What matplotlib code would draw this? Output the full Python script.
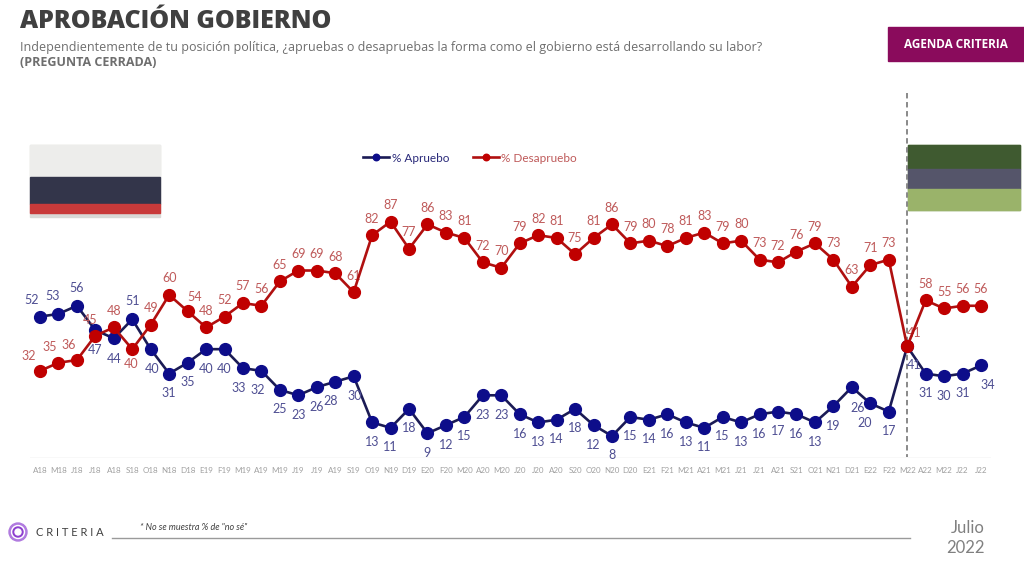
import matplotlib.pyplot as plt
from matplotlib.patches import Rectangle, Circle

# ---- data ----
meses = ["A18", "M18", "J18", "J18", "A18", "S18", "O18", "N18", "D18",
         "E19", "F19", "M19", "A19", "M19", "J19", "J19", "A19", "S19", "O19", "N19", "D19",
         "E20", "F20", "M20", "A20", "M20", "J20", "J20", "A20", "S20", "O20", "N20", "D20",
         "E21", "F21", "M21", "A21", "M21", "J21", "J21", "A21", "S21", "O21", "N21", "D21",
         "E22", "F22", "M22", "A22", "M22", "J22", "J22"]

apruebo = [52, 53, 56, 47, 44, 51, 40, 31, 35,
           40, 40, 33, 32, 25, 23, 26, 28, 30, 13, 11, 18,
           9, 12, 15, 23, 23, 16, 13, 14, 18, 12, 8, 15,
           14, 16, 13, 11, 15, 13, 16, 17, 16, 13, 19, 26,
           20, 17, 41, 31, 30, 31, 34]

desapruebo = [32, 35, 36, 45, 48, 40, 49, 60, 54,
              48, 52, 57, 56, 65, 69, 69, 68, 61, 82, 87, 77,
              86, 83, 81, 72, 70, 79, 82, 81, 75, 81, 86, 79,
              80, 78, 81, 83, 79, 80, 73, 72, 76, 79, 73, 63,
              71, 73, 41, 58, 55, 56, 56]

idx_cambio = 47  # M22, cambio de gobierno

AZUL = "#0d0d8a"
AZUL_LINEA = "#1b1b55"
AZUL_TXT = "#4e4e92"
ROJO = "#c00000"
ROJO_LINEA = "#b01010"
ROJO_TXT = "#bf5a5a"
GRIS = "#404040"

plt.rcParams['font.family'] = ['Lato', 'DejaVu Sans']

W, H = 1024, 573
fig = plt.figure(figsize=(W / 100, H / 100), dpi=100)
fig.patch.set_facecolor("white")

# overlay axes in pixel coords for decorations
deco = fig.add_axes([0, 0, 1, 1])
deco.set_xlim(0, W)
deco.set_ylim(H, 0)
deco.axis("off")

deco.text(20, 22, "APROBACIÓN GOBIERNO", fontsize=18, fontweight="black",
          color=GRIS, va="center", ha="left", family=["Open Sans", "DejaVu Sans"])
deco.text(20, 47, "Independientemente de tu posición política, ¿apruebas o desapruebas la forma como el gobierno está desarrollando su labor?",
          fontsize=9, color="#6e6e6e", va="center", ha="left", family=["Open Sans", "DejaVu Sans"])
deco.text(20, 62, "(PREGUNTA CERRADA)", fontsize=9, fontweight="bold",
          color="#6e6e6e", va="center", ha="left", family=["Open Sans", "DejaVu Sans"])

deco.add_patch(Rectangle((888, 27), 136, 34, color="#8a0b5c", zorder=2))
deco.text(956, 44, "AGENDA CRITERIA", fontsize=8.5, fontweight="bold", color="white",
          ha="center", va="center", zorder=3, family=["Open Sans", "DejaVu Sans"])

# photo placeholders
deco.add_patch(Rectangle((30, 145), 130, 72, color="#d9d9d6", zorder=1))
deco.add_patch(Rectangle((30, 145), 130, 32, color="#ededeb", zorder=1))
deco.add_patch(Rectangle((30, 177), 130, 27, color="#33354a", zorder=1))
deco.add_patch(Rectangle((30, 204), 130, 9, color="#c83a3a", zorder=1))
deco.add_patch(Rectangle((908, 145), 112, 65, color="#7f9c5e", zorder=1))
deco.add_patch(Rectangle((908, 145), 112, 24, color="#3f5a30", zorder=1))
deco.add_patch(Rectangle((908, 169), 112, 20, color="#55556a", zorder=1))
deco.add_patch(Rectangle((908, 189), 112, 21, color="#9ab36a", zorder=1))

# footer
for r, c in [(9, "#b07adf"), (6.5, "white"), (5, "#8e3fd0"), (3, "white")]:
    deco.add_patch(Circle((18, 532), r, color=c, zorder=2))
deco.text(36, 533, "C R I T E R I A", fontsize=8, color=GRIS, va="center", ha="left")
deco.plot([112, 910], [538, 538], color="#9a9a9a", lw=1)
deco.text(140, 528, "* No se muestra % de \"no sé\"", fontsize=6.5, style="italic",
          color=GRIS, va="center", ha="left")
deco.text(985, 528, "Julio", fontsize=12, color="#808080", va="center", ha="right")
deco.text(985, 548, "2022", fontsize=12, color="#808080", va="center", ha="right")

# dashed separator at government change
deco.plot([907, 907], [93, 457], color="#808080", lw=1.3, ls=(0, (3, 2)), zorder=1)

# ---- main chart ----
ax = fig.add_axes([30 / W, (H - 457.7) / H, 961 / W, 271.3 / H])
ax.set_xlim(-0.542, len(meses) - 1 + 0.542)
ax.set_ylim(0, 100)
ax.patch.set_alpha(0)
for s in ax.spines.values():
    s.set_visible(False)
ax.axhline(0, color="#dddddd", lw=1)

x = list(range(len(meses)))
ax.plot(x, apruebo, color=AZUL_LINEA, lw=1.9, marker="o", ms=8.5,
        mfc=AZUL, mec=AZUL, clip_on=False, zorder=3, label="% Apruebo")
ax.plot(x, desapruebo, color=ROJO_LINEA, lw=1.9, marker="o", ms=8.5,
        mfc=ROJO, mec=ROJO, clip_on=False, zorder=4, label="% Desapruebo")

# label offsets in points (dx, dy)
off_azul = {0: (-6, 12), 1: (-4, 13), 2: (0, 13), 3: (0, -14), 4: (0, -15),
            5: (0, 13), 6: (1, -14), 11: (-3, -14),
            12: (-3, -14), 16: (-3, -14), 17: (1, -14), 44: (4, -15), 45: (-4, -14),
            47: (5, -13), 51: (5, -14)}
off_rojo = {0: (-8, 11), 1: (-6, 11), 2: (-6, 11), 3: (-4, 11), 5: (-1, -11),
            7: (0, 12), 8: (5, 10), 47: (5, 10)}

for i, v in enumerate(apruebo):
    dx, dy = off_azul.get(i, (0, -14))
    ax.annotate(str(v), (i, v), xytext=(dx, dy), textcoords="offset points",
                ha="center", va="center", fontsize=9, color=AZUL_TXT,
                annotation_clip=False)
for i, v in enumerate(desapruebo):
    dx, dy = off_rojo.get(i, (0, 12))
    ax.annotate(str(v), (i, v), xytext=(dx, dy), textcoords="offset points",
                ha="center", va="center", fontsize=9, color=ROJO_TXT,
                annotation_clip=False)

ax.set_xticks(x)
ax.set_xticklabels(meses, fontsize=5.8, color="#a0a0a0")
ax.tick_params(axis="x", length=0, pad=7)
ax.set_yticks([])

leg = ax.legend(loc="center", bbox_to_anchor=(440 / 961, (457.7 - 158) / 271.3),
                ncol=2, frameon=False, fontsize=8.5, handlelength=2.2,
                markerscale=0.55, columnspacing=2.0, handletextpad=0.2)
leg.get_texts()[0].set_color("#2a2a7a")
leg.get_texts()[1].set_color(ROJO_TXT)

fig.savefig("out.png", dpi=100)
